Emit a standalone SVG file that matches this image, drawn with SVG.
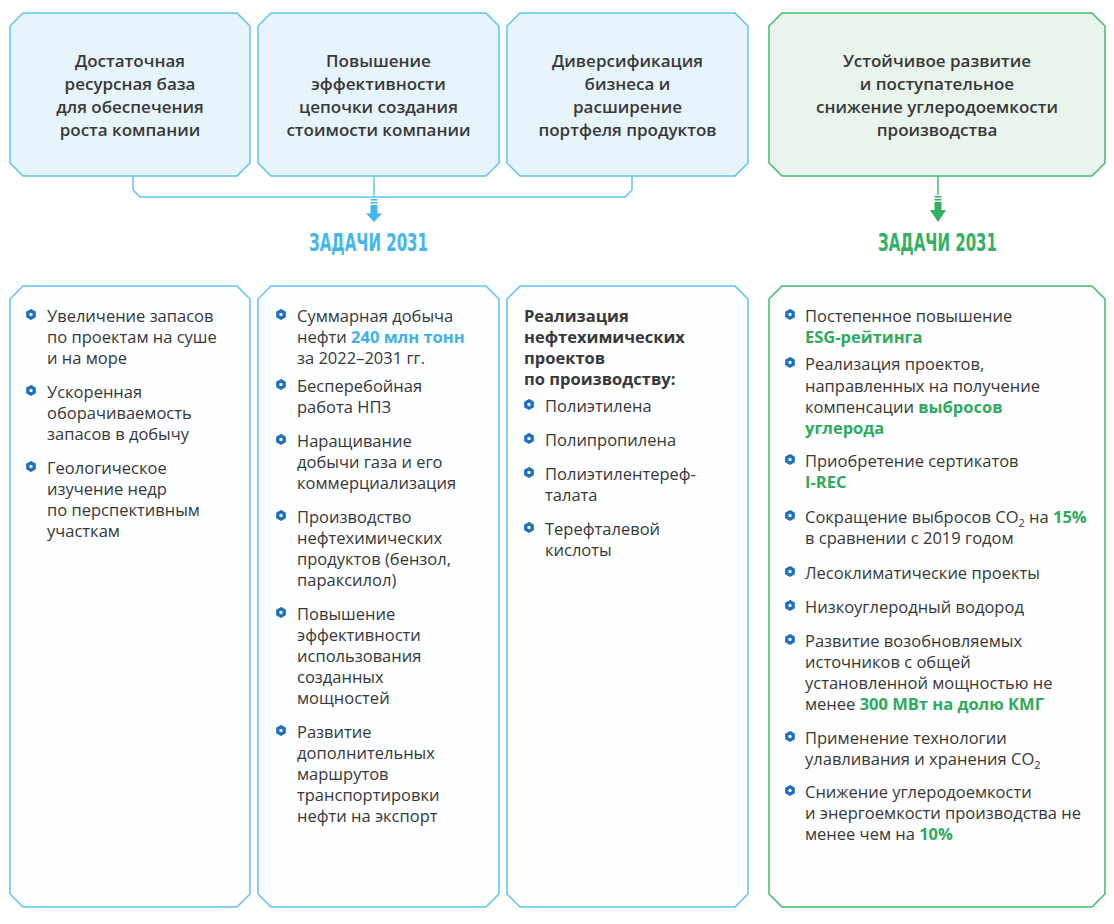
<svg xmlns="http://www.w3.org/2000/svg" width="1114" height="924" viewBox="0 0 1114 924">
<defs>
<style>
.bt{fill:#e8f4fb;stroke:#5ec3f0;stroke-width:1.5}
.bb{fill:#fcfeff;stroke:#5ec3f0;stroke-width:1.5}
.gt{fill:#e8f4ec;stroke:#3fbb6f;stroke-width:1.5}
.gb{fill:#fdfefd;stroke:#3fbb6f;stroke-width:1.5}
.ht{font-family:"Open Sans","Noto Sans",sans-serif;font-size:17px;font-weight:600;fill:#383838;text-anchor:middle}
.tx{font-family:"Open Sans","Noto Sans",sans-serif;font-size:16.5px;fill:#383838}
.tb{font-family:"Open Sans","Noto Sans",sans-serif;font-size:16.5px;font-weight:700;fill:#383838}
.g{font-weight:700;fill:#2eaa5c}
.b{font-weight:700;fill:#3db1ea}
.hd{font-family:"DejaVu Sans",sans-serif;font-stretch:condensed;font-weight:700;font-size:24px}
.sub{font-size:11px}
.cn{fill:none;stroke-width:1.5}
</style>
<path id="hx" d="M0,-3.7 L3.2,-1.85 L3.2,1.85 L0,3.7 L-3.2,1.85 L-3.2,-1.85 Z" fill="#ffffff" stroke="#1e6fc0" stroke-width="3.3"/>
</defs>

<g id="top1">
<path class="bt" d="M23,13 H237 L250,26 V163 L237,176 H23 L10,163 V26 Z"/>
<text class="ht"><tspan x="130" y="67">Достаточная</tspan><tspan x="130" y="90">ресурсная база</tspan><tspan x="130" y="113">для обеспечения</tspan><tspan x="130" y="136">роста компании</tspan></text>
</g>
<g id="top2">
<path class="bt" d="M271,13 H486 L499,26 V163 L486,176 H271 L258,163 V26 Z"/>
<text class="ht"><tspan x="378.5" y="67">Повышение</tspan><tspan x="378.5" y="90">эффективности</tspan><tspan x="378.5" y="113">цепочки создания</tspan><tspan x="378.5" y="136">стоимости компании</tspan></text>
</g>
<g id="top3">
<path class="bt" d="M520,13 H735 L748,26 V163 L735,176 H520 L507,163 V26 Z"/>
<text class="ht"><tspan x="627.5" y="67">Диверсификация</tspan><tspan x="627.5" y="90">бизнеса и</tspan><tspan x="627.5" y="113">расширение</tspan><tspan x="627.5" y="136">портфеля продуктов</tspan></text>
</g>
<g id="top4">
<path class="gt" d="M782,13 H1092 L1105,26 V163 L1092,176 H782 L769,163 V26 Z"/>
<text class="ht"><tspan x="937" y="67">Устойчивое развитие</tspan><tspan x="937" y="90">и поступательное</tspan><tspan x="937" y="113">снижение углеродоемкости</tspan><tspan x="937" y="136">производства</tspan></text>
</g>

<g id="connectors">
<path class="cn" stroke="#5ec3f0" d="M133,176 V190 L140,197 H625 L632,190 V176 M374,176 V197"/>
<g fill="#45b6ec">
<rect x="370.5" y="199" width="7" height="1.5"/>
<rect x="370.5" y="202" width="7" height="1.5"/>
<rect x="370.5" y="205" width="7" height="9"/>
<polygon points="366,213.5 382,213.5 374,222"/>
</g>
<path class="cn" stroke="#3fbb6f" d="M938,176 V195"/>
<g fill="#34b065">
<rect x="934.5" y="196" width="7" height="1.5"/>
<rect x="934.5" y="199" width="7" height="1.5"/>
<rect x="934.5" y="202" width="7" height="8.5"/>
<polygon points="930,210 946,210 938,222"/>
</g>
</g>

<g id="head1">
<text class="hd" x="309" y="251" fill="#45b6ec" textLength="119" lengthAdjust="spacingAndGlyphs">ЗАДАЧИ 2031</text>
</g>
<g id="head2">
<text class="hd" x="878" y="251" fill="#34b065" textLength="119" lengthAdjust="spacingAndGlyphs">ЗАДАЧИ 2031</text>
</g>

<g id="col1">
<path class="bb" d="M23,286 H237 L250,299 V894 L237,907 H23 L10,894 V299 Z"/>
<use href="#hx" x="31" y="314.5"/>
<use href="#hx" x="31" y="390.5"/>
<use href="#hx" x="31" y="466.5"/>
<text class="tx"><tspan x="47" y="322">Увеличение запасов</tspan><tspan x="47" y="343">по проектам на суше</tspan><tspan x="47" y="364">и на море</tspan><tspan x="47" y="398">Ускоренная</tspan><tspan x="47" y="419">оборачиваемость</tspan><tspan x="47" y="440">запасов в добычу</tspan><tspan x="47" y="474">Геологическое</tspan><tspan x="47" y="495">изучение недр</tspan><tspan x="47" y="516">по перспективным</tspan><tspan x="47" y="537">участкам</tspan></text>
</g>

<g id="col2">
<path class="bb" d="M271,286 H486 L499,299 V894 L486,907 H271 L258,894 V299 Z"/>
<use href="#hx" x="281" y="314.5"/>
<use href="#hx" x="281" y="384.5"/>
<use href="#hx" x="281" y="439.5"/>
<use href="#hx" x="281" y="515.5"/>
<use href="#hx" x="281" y="612.5"/>
<use href="#hx" x="281" y="730.5"/>
<text class="tx"><tspan x="297" y="322">Суммарная добыча</tspan><tspan x="297" y="343">нефти <tspan class="b">240 млн тонн</tspan></tspan><tspan x="297" y="364">за 2022–2031 гг.</tspan><tspan x="297" y="392">Бесперебойная</tspan><tspan x="297" y="413">работа НПЗ</tspan><tspan x="297" y="447">Наращивание</tspan><tspan x="297" y="468">добычи газа и его</tspan><tspan x="297" y="489">коммерциализация</tspan><tspan x="297" y="523">Производство</tspan><tspan x="297" y="544">нефтехимических</tspan><tspan x="297" y="565">продуктов (бензол,</tspan><tspan x="297" y="586">параксилол)</tspan><tspan x="297" y="620">Повышение</tspan><tspan x="297" y="641">эффективности</tspan><tspan x="297" y="662">использования</tspan><tspan x="297" y="683">созданных</tspan><tspan x="297" y="704">мощностей</tspan><tspan x="297" y="738">Развитие</tspan><tspan x="297" y="759">дополнительных</tspan><tspan x="297" y="780">маршрутов</tspan><tspan x="297" y="801">транспортировки</tspan><tspan x="297" y="822">нефти на экспорт</tspan></text>
</g>

<g id="col3">
<path class="bb" d="M520,286 H735 L748,299 V894 L735,907 H520 L507,894 V299 Z"/>
<text class="tb"><tspan x="524" y="322">Реализация</tspan><tspan x="524" y="343">нефтехимических</tspan><tspan x="524" y="364">проектов</tspan><tspan x="524" y="385">по производству:</tspan></text>
<use href="#hx" x="529" y="404.5"/>
<use href="#hx" x="529" y="438.5"/>
<use href="#hx" x="529" y="472.5"/>
<use href="#hx" x="529" y="527.5"/>
<text class="tx"><tspan x="545" y="412">Полиэтилена</tspan><tspan x="545" y="446">Полипропилена</tspan><tspan x="545" y="480">Полиэтилентереф-</tspan><tspan x="545" y="501">талата</tspan><tspan x="545" y="535">Терефталевой</tspan><tspan x="545" y="556">кислоты</tspan></text>
</g>

<g id="col4">
<path class="gb" d="M782,286 H1092 L1105,299 V894 L1092,907 H782 L769,894 V299 Z"/>
<use href="#hx" x="790" y="314.5"/>
<use href="#hx" x="790" y="362.5"/>
<use href="#hx" x="790" y="459.5"/>
<use href="#hx" x="790" y="515.5"/>
<use href="#hx" x="790" y="571.5"/>
<use href="#hx" x="790" y="605.5"/>
<use href="#hx" x="790" y="639.5"/>
<use href="#hx" x="790" y="736.5"/>
<use href="#hx" x="790" y="790.5"/>
<text class="tx"><tspan x="805" y="322">Постепенное повышение</tspan><tspan x="805" y="343" class="g">ESG-рейтинга</tspan><tspan x="805" y="370">Реализация проектов,</tspan><tspan x="805" y="391.5">направленных на получение</tspan><tspan x="805" y="412.5">компенсации <tspan class="g">выбросов</tspan></tspan><tspan x="805" y="433.5" class="g">углерода</tspan><tspan x="805" y="467">Приобретение сертикатов</tspan><tspan x="805" y="488" class="g">I-REC</tspan><tspan x="805" y="523">Сокращение выбросов CO<tspan class="sub" dy="4">2</tspan><tspan dy="-4"> на </tspan><tspan class="g">15%</tspan></tspan><tspan x="805" y="544">в сравнении с 2019 годом</tspan><tspan x="805" y="579">Лесоклиматические проекты</tspan><tspan x="805" y="613">Низкоуглеродный водород</tspan><tspan x="805" y="647">Развитие возобновляемых</tspan><tspan x="805" y="668">источников с общей</tspan><tspan x="805" y="689">установленной мощностью не</tspan><tspan x="805" y="710">менее <tspan class="g">300 МВт на долю КМГ</tspan></tspan><tspan x="805" y="744">Применение технологии</tspan><tspan x="805" y="765">улавливания и хранения CO<tspan class="sub" dy="4">2</tspan></tspan><tspan x="805" y="798">Снижение углеродоемкости</tspan><tspan x="805" y="819">и энергоемкости производства не</tspan><tspan x="805" y="840">менее чем на <tspan class="g">10%</tspan></tspan></text>
</g>
</svg>
